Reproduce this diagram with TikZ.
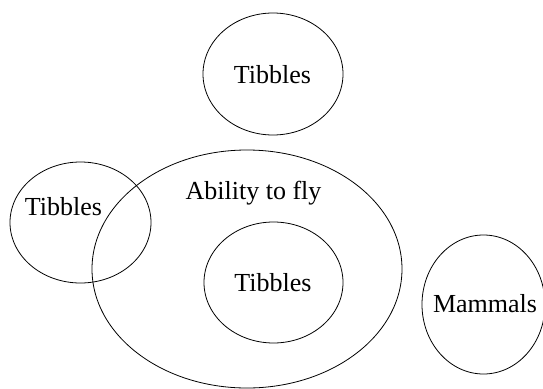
\documentclass[tikz,border=0pt]{standalone}
\usepackage{fontspec}
\setmainfont{Liberation Serif}
\usetikzlibrary{shapes.geometric}
\begin{document}
\begin{tikzpicture}[x=1pt,y=-1pt,
  set/.style={draw, ellipse, line width=0.8pt, inner sep=0pt, outer sep=0pt},
  lbl/.style={font=\fontsize{26}{30}\selectfont, anchor=base, inner sep=0pt}]
\useasboundingbox (0,0) rectangle (543,388);
\node[set, minimum width=140pt, minimum height=122pt] (top) at (273,74) {};
\node[set, minimum width=141pt, minimum height=121pt] (left) at (80.5,222.5) {};
\node[set, minimum width=310pt, minimum height=238pt] (fly) at (247,269) {};
\node[set, minimum width=139pt, minimum height=121pt] (inner) at (273.5,282.5) {};
\node[set, minimum width=123pt, minimum height=139pt] (mam) at (483.5,304.5) {};
\node[lbl] (ttop) at (272.5,83) {Tibbles};
\node[lbl] (tleft) at (63.5,215) {Tibbles};
\node[lbl] (tfly) at (253.5,199) {Ability to fly};
\node[lbl] (tinner) at (273,291) {Tibbles};
\node[lbl] (tmam) at (485,312) {Mammals};
\end{tikzpicture}
\end{document}
